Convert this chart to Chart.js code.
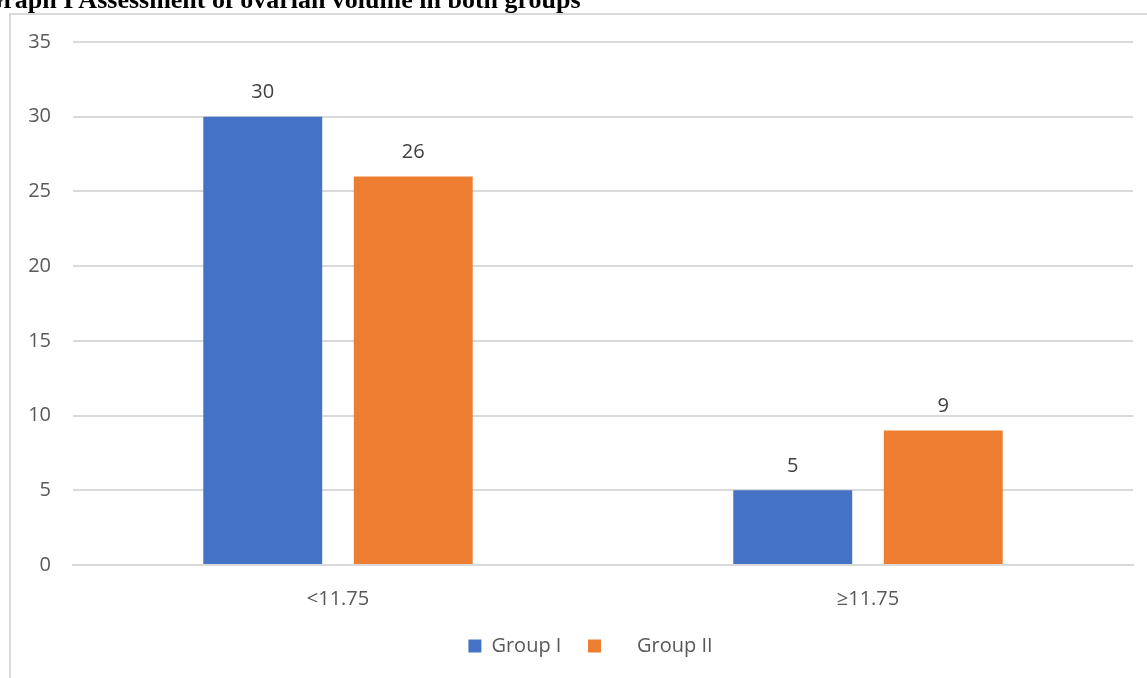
<!DOCTYPE html>
<html>
<head>
<meta charset="utf-8">
<script src="https://cdn.jsdelivr.net/npm/chart.js@4/dist/chart.umd.min.js"></script>
<style>
  html, body { margin: 0; padding: 0; background: #fff; overflow: hidden; }
  #wrap { position: absolute; left: 0; top: 0; width: 1147px; height: 678px; }
  #frame { position: absolute; left: 9px; top: 13px; width: 1160px; height: 700px; border: 2px solid #d9d9d9; box-sizing: border-box; }
  #title { position: absolute; left: -17px; top: -15px; font-family: 'Liberation Serif', 'Times New Roman', serif; font-weight: bold; font-size: 26px; color: #000; white-space: nowrap; }
  #chart { position: absolute; left: 0; top: 0; }
</style>
</head>
<body>
<div id="wrap">
  <div id="frame"></div>
  <canvas id="chart" width="1147" height="678"></canvas>
  <div id="title">Graph I Assessment of ovarian volume in both groups</div>
</div>
<script>
const categories = ['<11.75', '≥11.75'];
const group1 = [30, 5];
const group2 = [26, 9];
const seriesNames = ['Group I   ', '     Group II'];
const yTicks = [0, 5, 10, 15, 20, 25, 30, 35];

document.addEventListener('DOMContentLoaded', function() {
    const ctx = document.getElementById('chart').getContext('2d');
    const fontFamily = "'Open Sans', 'Liberation Sans', sans-serif";

    // 棒の上に値を表示する
    const valueLabels = {
        id: 'valueLabels',
        afterDatasetsDraw(chart) {
            const c = chart.ctx;
            c.save();
            c.font = '20px ' + fontFamily;
            c.fillStyle = '#404040';
            c.textAlign = 'center';
            c.textBaseline = 'middle';
            chart.data.datasets.forEach((ds, i) => {
                chart.getDatasetMeta(i).data.forEach((bar, j) => {
                    c.fillText(ds.data[j], bar.x, bar.y - 24);
                });
            });
            c.restore();
        }
    };

    // 凡例を少し右へずらす
    const shiftLegend = {
        id: 'shiftLegend',
        afterLayout(chart) {
            chart.legend.left += 19;
            chart.legend.right += 19;
        }
    };

    new Chart(ctx, {
        type: 'bar',
        data: {
            labels: categories,
            datasets: [
                { label: seriesNames[0], data: group1, backgroundColor: '#4472C4' },
                { label: seriesNames[1], data: group2, backgroundColor: '#ED7D31' }
            ]
        },
        options: {
            responsive: false,
            animation: false,
            layout: { padding: { left: 10, top: 42, right: 14, bottom: 12 } },
            datasets: { bar: { categoryPercentage: 0.568, barPercentage: 0.79 } },
            scales: {
                x: {
                    grid: { display: false },
                    border: { color: '#d9d9d9', width: 2 },
                    ticks: { color: '#595959', font: { family: fontFamily, size: 20 }, padding: 14 }
                },
                y: {
                    min: 0,
                    max: 35,
                    afterBuildTicks: axis => { axis.ticks = yTicks.map(v => ({ value: v })); },
                    afterFit: axis => { axis.width = 63; },
                    grid: { color: '#d9d9d9', lineWidth: 2, drawTicks: false },
                    border: { display: false },
                    ticks: { color: '#595959', font: { family: fontFamily, size: 20 }, padding: 22 }
                }
            },
            plugins: {
                legend: {
                    position: 'bottom',
                    labels: {
                        boxWidth: 13,
                        boxHeight: 13,
                        padding: 11,
                        color: '#595959',
                        font: { family: fontFamily, size: 20 }
                    }
                },
                tooltip: { enabled: false }
            }
        },
        plugins: [valueLabels, shiftLegend]
    });
});
</script>
</body>
</html>
